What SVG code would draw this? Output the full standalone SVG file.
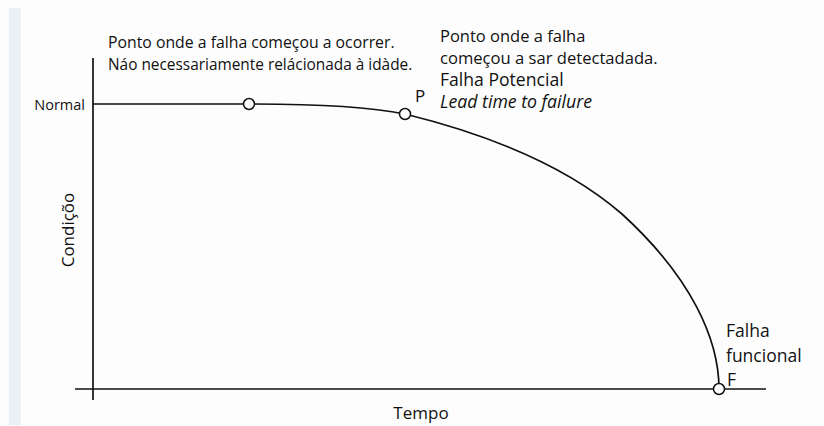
<svg xmlns="http://www.w3.org/2000/svg" width="824" height="426" viewBox="0 0 824 426">
<style>
.t{font-family:"Open Sans","Noto Sans","Liberation Sans",sans-serif;fill:#111}
.ax{stroke:#111;stroke-width:1.7;fill:none}
.cv{stroke:#111;stroke-width:1.7;fill:none}
.pt{fill:#fff;stroke:#111;stroke-width:1.5}
</style>
<rect x="0" y="0" width="824" height="426" fill="#fdfdfd"/>
<rect x="9" y="8" width="12" height="417" fill="#ebf0f7"/>
<g id="axes">
  <line class="ax" x1="93" y1="58" x2="93" y2="400"/>
  <line class="ax" x1="75" y1="389" x2="766" y2="389"/>
  <text class="t" x="85" y="110" text-anchor="end" style="font-size:14.5px">Normal</text>
  <text class="t" x="0" y="0" text-anchor="middle" style="font-size:17px" transform="translate(74 230) rotate(-90)">Condiçõo</text>
  <text class="t" x="421" y="419" text-anchor="middle" style="font-size:17px">Tempo</text>
</g>
<g id="connectors">
  <path class="cv" d="M93 104 H249 C300 104 360 105 405 114 C470 130 560 160 622 214 C692 278 719 340 719 389"/>
</g>
<g id="start">
  <circle class="pt" cx="249" cy="104" r="5.5"/>
  <text class="t" x="108" y="48" style="font-size:15.8px">Ponto onde a falha começou a ocorrer.</text>
  <text class="t" x="108" y="70" style="font-size:15.4px">Náo necessariamente relácionada à idàde.</text>
</g>
<g id="P">
  <circle class="pt" cx="405" cy="114" r="5.5"/>
  <text class="t" x="415" y="102" style="font-size:17px">P</text>
  <text class="t" x="440" y="42" style="font-size:16.5px">Ponto onde a falha</text>
  <text class="t" x="440" y="64" style="font-size:16.6px">começou a sar detectadada.</text>
  <text class="t" x="440" y="86" style="font-size:17.6px">Falha Potencial</text>
  <text class="t" x="440" y="108" style="font-size:17.7px;font-style:italic">Lead time to failure</text>
</g>
<g id="F">
  <circle class="pt" cx="719" cy="389" r="5.5"/>
  <text class="t" x="726" y="337" style="font-size:17.5px">Falha</text>
  <text class="t" x="726" y="362" style="font-size:17.5px">funcional</text>
  <text class="t" x="727" y="386" style="font-size:17.5px">F</text>
</g>
</svg>
